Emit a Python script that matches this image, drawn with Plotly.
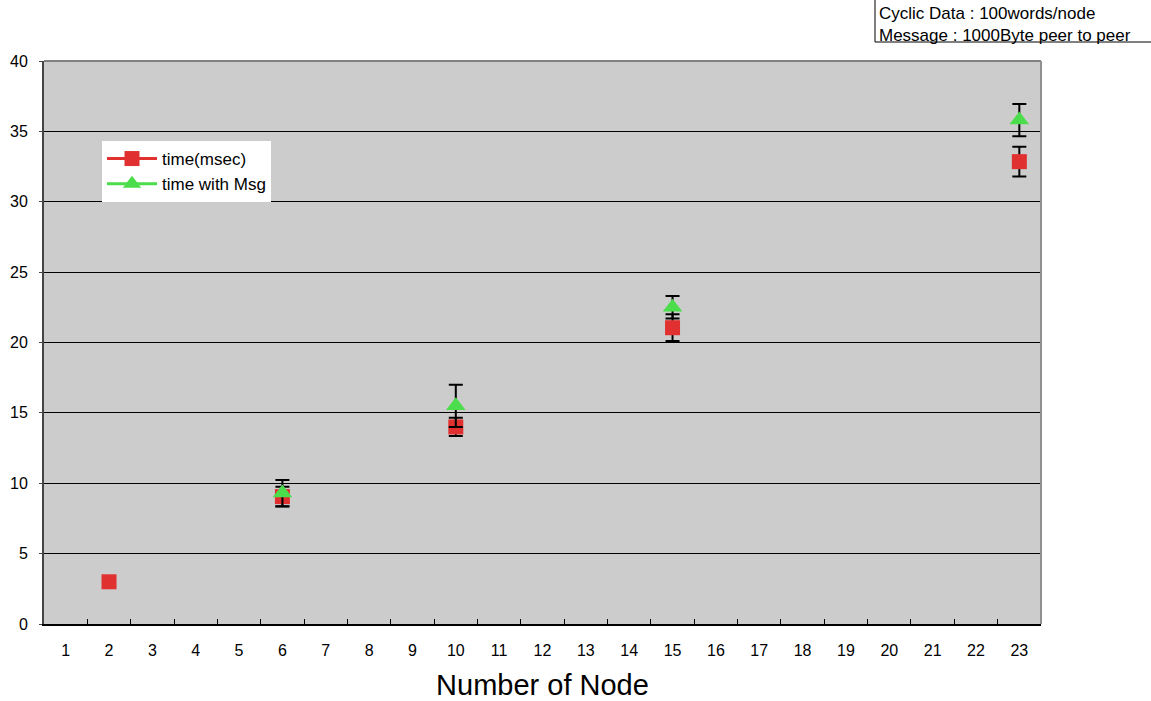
import plotly.graph_objects as go

categories = [str(i) for i in range(1, 24)]

# values per category (None where no measurement)
time_msec = [None, 3.0, None, None, None, 9.05, None, None, None, 14.0, None, None, None, None,
             21.05, None, None, None, None, None, None, None, 32.85]
time_msec_err = [None, None, None, None, None, 0.7, None, None, None, 0.65, None, None, None, None,
                 0.95, None, None, None, None, None, None, None, 1.05]
time_msg = [None, None, None, None, None, 9.3, None, None, None, 15.5, None, None, None, None,
            22.5, None, None, None, None, None, None, None, 35.8]
time_msg_err = [None, None, None, None, None, 0.93, None, None, None, 1.5, None, None, None, None,
                0.8, None, None, None, None, None, None, None, 1.15]

y_ticks = [0, 5, 10, 15, 20, 25, 30, 35, 40]

note_lines = ["Cyclic Data : 100words/node", "Message : 1000Byte peer to peer"]

RED = "#E03030"
GREEN = "#4CDD4C"
FONT = "Liberation Sans, Arial, sans-serif"

fig = go.Figure()
fig.add_trace(go.Scatter(
    x=categories, y=time_msec, name="time(msec)", mode="lines+markers",
    connectgaps=False,
    line=dict(color=RED, width=3),
    marker=dict(symbol="square", size=15, color=RED),
    error_y=dict(type="data", array=time_msec_err, visible=True, color="black",
                 thickness=2, width=7),
))
fig.add_trace(go.Scatter(
    x=categories, y=time_msg, name="time with Msg", mode="lines+markers",
    connectgaps=False,
    line=dict(color=GREEN, width=3),
    marker=dict(symbol="triangle-up", size=17, color=GREEN),
    error_y=dict(type="data", array=time_msg_err, visible=True, color="black",
                 thickness=2, width=7),
))

L, R, T, B = 44, 110, 61, 77
W, H = 1151, 701
pw, ph = W - L - R, H - T - B

def px_x(x):
    return (x - L) / pw

def px_y(y):
    return (H - B - y) / ph

fig.update_layout(
    width=W, height=H,
    margin=dict(l=L, r=R, t=T, b=B, pad=0, autoexpand=False),
    paper_bgcolor="white",
    plot_bgcolor="#CCCCCC",
    font=dict(family=FONT, color="black", size=16),
    showlegend=True,
    legend=dict(x=px_x(102), y=px_y(141), xanchor="left", yanchor="top",
                bgcolor="white", borderwidth=0, font=dict(size=17, family=FONT),
                tracegroupgap=0, itemsizing="trace", itemwidth=50),
    xaxis=dict(
        type="category", categoryorder="array", categoryarray=categories,
        range=[-0.5, 22.5], automargin=False,
        showgrid=False, zeroline=False,
        showline=True, linecolor="black", linewidth=2,
        ticks="inside", tickson="boundaries", ticklen=5, tickcolor="black", tickwidth=1,
        tickfont=dict(size=16), ticklabelstandoff=11,
        title=dict(text="Number of Node", font=dict(size=29), standoff=21),
    ),
    yaxis=dict(
        range=[0, 40], tickvals=y_ticks, automargin=False,
        showgrid=True, gridcolor="black", gridwidth=1,
        zeroline=False,
        showline=True, linecolor="#444444", linewidth=2,
        ticks="outside", ticklen=3, tickcolor="#444444",
        tickfont=dict(size=16), ticklabelstandoff=8,
    ),
    shapes=[
        dict(type="line", xref="paper", yref="paper", x0=0, x1=1, y0=1, y1=1,
             line=dict(color="#808080", width=2), layer="above"),
        dict(type="line", xref="paper", yref="paper", x0=1, x1=1, y0=0, y1=1,
             line=dict(color="#909090", width=2), layer="above"),
        dict(type="rect", xref="paper", yref="paper",
             x0=px_x(875), x1=px_x(1165), y0=px_y(42), y1=px_y(-5),
             line=dict(color="black", width=1), fillcolor="white", layer="above"),
    ],
    annotations=[
        dict(text="<br>".join(note_lines), xref="paper", yref="paper",
             x=px_x(877), y=px_y(25), xanchor="left", yanchor="middle", align="left",
             showarrow=False, font=dict(size=17, family=FONT)),
    ],
)

fig.write_html("out.html", config={"displayModeBar": False},
               post_script="document.body.style.margin='0';")
